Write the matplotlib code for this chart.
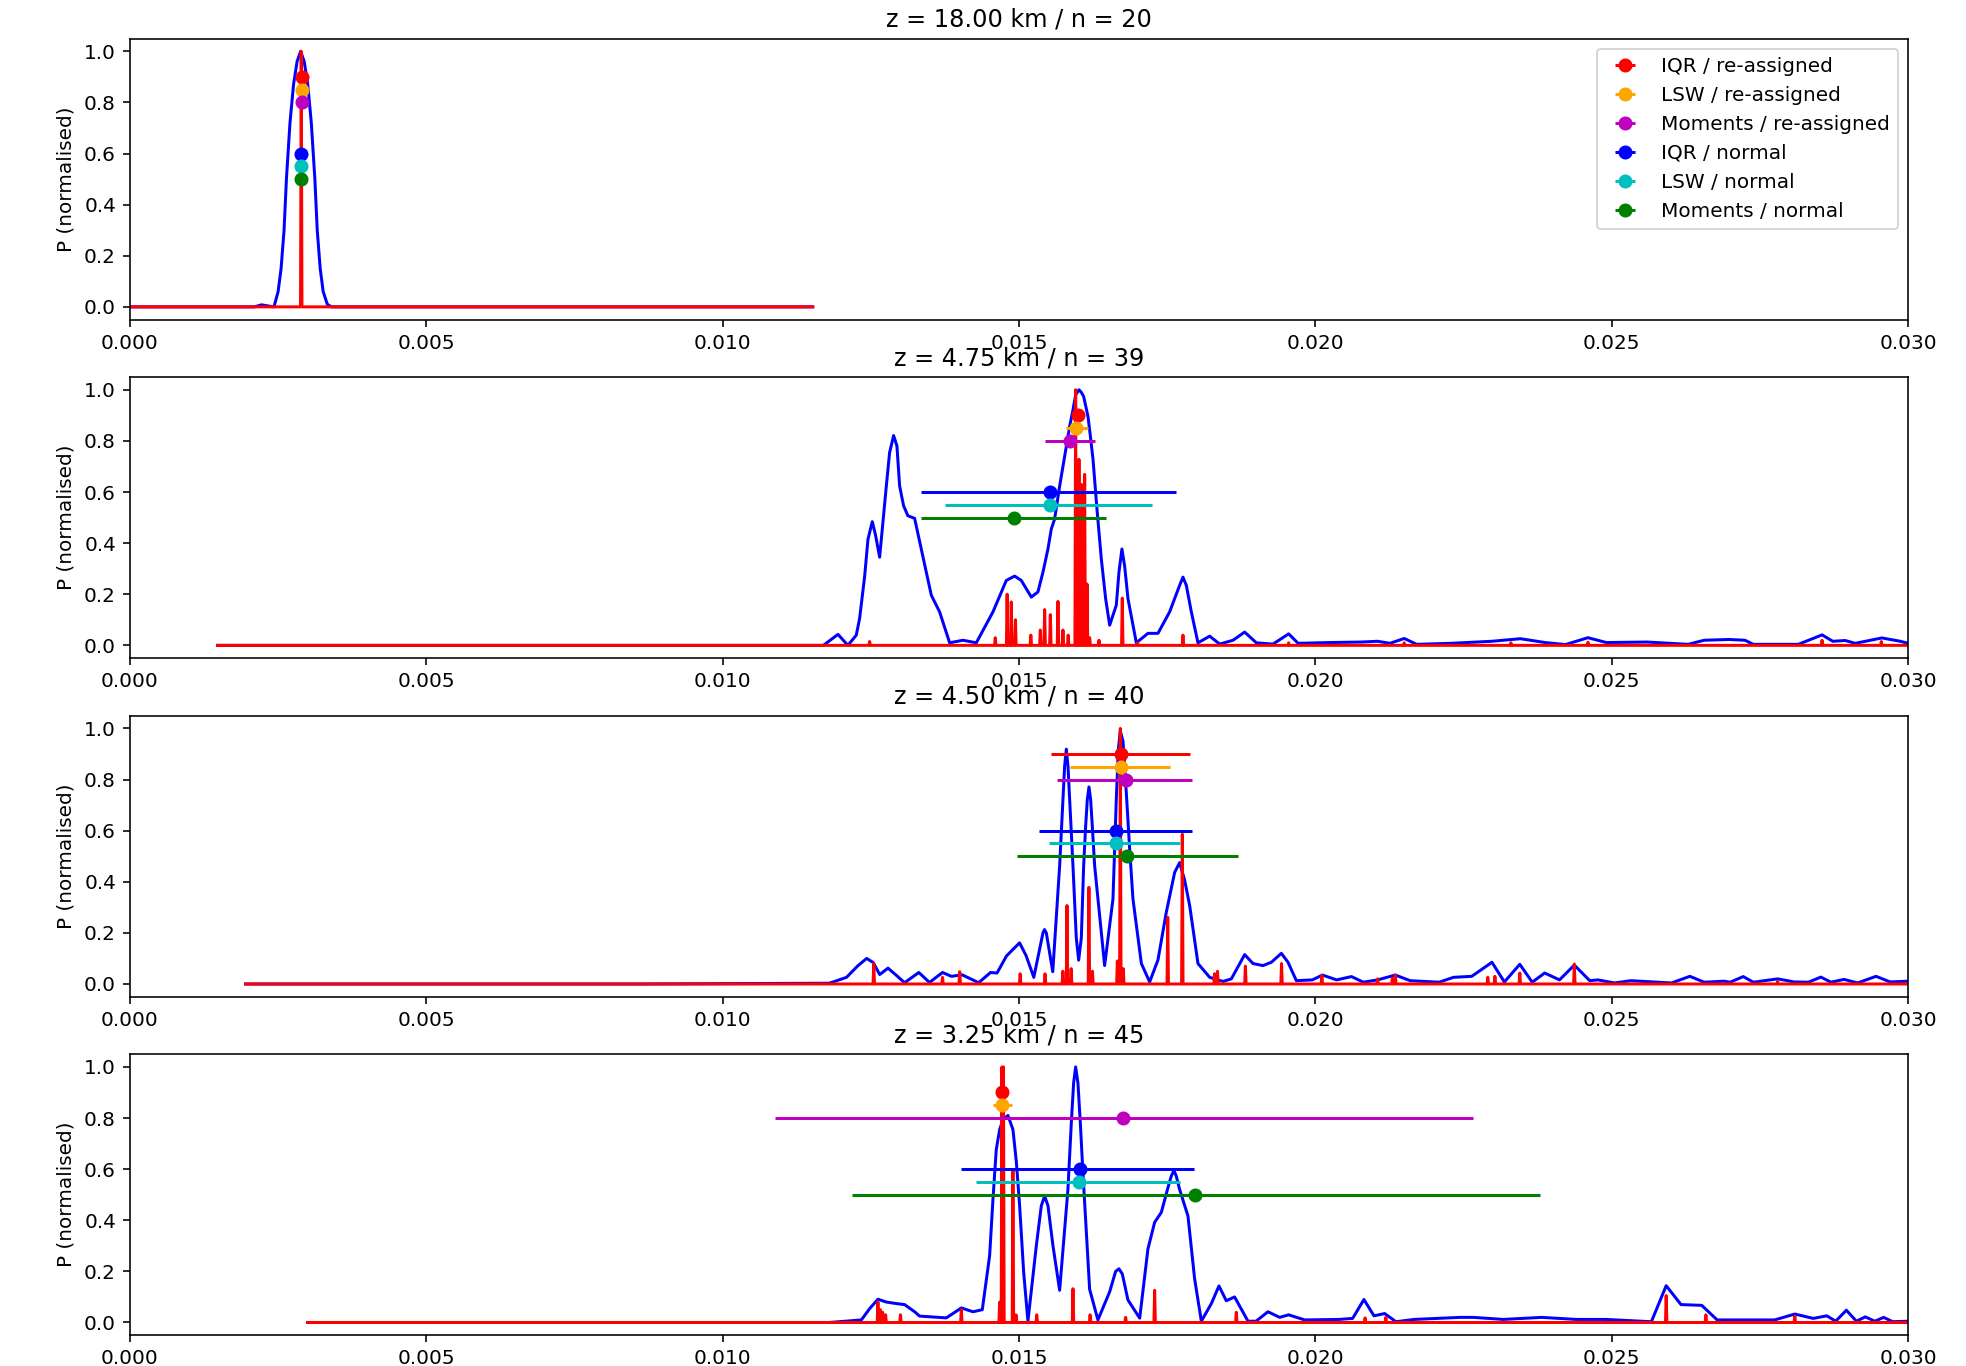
import matplotlib
matplotlib.use("Agg")
import matplotlib.pyplot as plt

# ---------------- labels / styles ----------------
titles = ["z = 18.00 km / n = 20", "z = 4.75 km / n = 39",
          "z = 4.50 km / n = 40", "z = 3.25 km / n = 45"]
method_labels = ["IQR / re-assigned", "LSW / re-assigned", "Moments / re-assigned",
                 "IQR / normal", "LSW / normal", "Moments / normal"]
method_colors = ["r", "orange", "m", "b", "c", "g"]
method_levels = [0.9, 0.85, 0.8, 0.6, 0.55, 0.5]
x_ticks = [0.000, 0.005, 0.010, 0.015, 0.020, 0.025, 0.030]

# ---------------- panel 1 : z = 18.00 km ----------------
blue1_f = [0.0, 0.0021, 0.00222, 0.00232, 0.00243, 0.0025, 0.00255, 0.0026, 0.00264,
           0.0027, 0.00276, 0.00282, 0.00288, 0.00294, 0.003, 0.00306, 0.00312,
           0.00316, 0.00321, 0.00326, 0.00333, 0.0034, 0.01152]
blue1_p = [0.0, 0.0, 0.008, 0.004, 0.0, 0.06, 0.15, 0.3, 0.5,
           0.72, 0.87, 0.96, 1.0, 0.96, 0.87, 0.72, 0.5,
           0.3, 0.15, 0.06, 0.01, 0.0, 0.0]
red1_range = [0.0, 0.01152]
red1_f = [0.00289]
red1_p = [1.0]
ctr1 = [0.0029, 0.0029, 0.0029, 0.002884, 0.002884, 0.002884]
elo1 = [0.00001, 0.00001, 0.00001, 0.00001, 0.00001, 0.00001]
ehi1 = [0.00001, 0.00001, 0.00001, 0.00001, 0.00001, 0.00001]

# ---------------- panel 2 : z = 4.75 km ----------------
blue2_f = [0.00148, 0.0117, 0.011946, 0.012114, 0.012255, 0.012311, 0.012396, 0.012452,
           0.012525, 0.012581, 0.012649, 0.012762, 0.012817, 0.012885, 0.012941, 0.012986,
           0.013053, 0.013126, 0.013239, 0.013521, 0.013661, 0.01383, 0.014055, 0.01428,
           0.014561, 0.014786, 0.014927, 0.015039, 0.015208, 0.01532, 0.015405, 0.015489,
           0.015545, 0.015601, 0.015686, 0.015799, 0.015855, 0.015911, 0.015956, 0.016012,
           0.016052, 0.016091, 0.016164, 0.016204, 0.016249, 0.016316, 0.016389, 0.016462,
           0.01653, 0.016642, 0.016687, 0.016737, 0.016783, 0.016839, 0.01698, 0.017176,
           0.017345, 0.017542, 0.017711, 0.017767, 0.017823, 0.017908, 0.01802, 0.018218,
           0.018386, 0.018611, 0.018808, 0.019005, 0.019286, 0.01955, 0.01971, 0.02023,
           0.02078, 0.02105, 0.02126, 0.0215, 0.02171, 0.02229, 0.02298, 0.02346,
           0.02388, 0.02422, 0.0246, 0.02491, 0.0256, 0.02629, 0.02656, 0.02698,
           0.02725, 0.02739, 0.02815, 0.02855, 0.02873, 0.02894, 0.02911, 0.02956,
           0.02987, 0.030]
blue2_p = [0.0, 0.0, 0.043, 0.0, 0.04, 0.105, 0.27, 0.415,
           0.484, 0.43, 0.345, 0.624, 0.754, 0.821, 0.78, 0.624,
           0.546, 0.507, 0.497, 0.196, 0.131, 0.01, 0.02, 0.01,
           0.131, 0.254, 0.271, 0.254, 0.189, 0.209, 0.287, 0.377,
           0.455, 0.494, 0.623, 0.779, 0.857, 0.921, 0.98, 1.0,
           0.99, 0.974, 0.896, 0.82, 0.728, 0.533, 0.339, 0.183,
           0.079, 0.157, 0.287, 0.377, 0.31, 0.183, 0.01, 0.047,
           0.047, 0.131, 0.235, 0.267, 0.235, 0.131, 0.01, 0.036,
           0.005, 0.02, 0.052, 0.01, 0.005, 0.045, 0.008, 0.011,
           0.013, 0.016, 0.008, 0.027, 0.004, 0.008, 0.016, 0.026,
           0.011, 0.003, 0.03, 0.011, 0.013, 0.004, 0.02, 0.023,
           0.02, 0.004, 0.004, 0.041, 0.016, 0.019, 0.008, 0.029,
           0.016, 0.008]
red2_range = [0.00148, 0.030]
red2_f = [0.01248, 0.0146, 0.0148, 0.01487, 0.01494, 0.0152, 0.01536, 0.015433,
          0.015529, 0.015658, 0.015742, 0.01583, 0.015956, 0.016012, 0.016052, 0.016108,
          0.016148, 0.016193, 0.01635, 0.016743, 0.0170, 0.017767, 0.01955, 0.0215,
          0.0233, 0.0246, 0.02855, 0.02955]
red2_p = [0.015, 0.03, 0.2, 0.17, 0.1, 0.04, 0.06, 0.14,
          0.12, 0.172, 0.06, 0.04, 1.0, 0.728, 0.63, 0.669,
          0.24, 0.03, 0.02, 0.185, 0.01, 0.04, 0.01, 0.01,
          0.01, 0.012, 0.02, 0.015]
ctr2 = [0.01599, 0.015967, 0.015855, 0.015529, 0.015517, 0.014916]
elo2 = [0.00002, 0.000168, 0.000411, 0.002177, 0.00176, 0.001564]
ehi2 = [0.00002, 0.000197, 0.000422, 0.002126, 0.001733, 0.001558]

# ---------------- panel 3 : z = 4.50 km ----------------
blue3_f = [0.00195, 0.0086, 0.0118, 0.01209, 0.01228, 0.01243, 0.01254, 0.01265,
           0.01279, 0.01294, 0.01307, 0.01331, 0.01349, 0.01371, 0.01386, 0.01404,
           0.01432, 0.01452, 0.01463, 0.01479, 0.01501, 0.01512, 0.01525, 0.015405,
           0.01543, 0.015461, 0.01557, 0.015686, 0.015742, 0.01577, 0.015799, 0.015827,
           0.015855, 0.015911, 0.015967, 0.016007, 0.016052, 0.016091, 0.016125, 0.016153,
           0.016181, 0.016209, 0.016237, 0.016277, 0.016445, 0.016586, 0.016642, 0.016676,
           0.01671, 0.016755, 0.016811, 0.016867, 0.016923, 0.017065, 0.017205, 0.017345,
           0.017486, 0.017627, 0.017711, 0.017796, 0.01788, 0.01802, 0.018218, 0.018443,
           0.018583, 0.018808, 0.018948, 0.019117, 0.019258, 0.019427, 0.01954, 0.01968,
           0.01995, 0.02012, 0.02036, 0.02061, 0.02081, 0.02105, 0.02135, 0.0216,
           0.02209, 0.02233, 0.02264, 0.02298, 0.02319, 0.02345, 0.02366, 0.02387,
           0.02412, 0.02437, 0.02463, 0.02477, 0.02505, 0.02532, 0.02601, 0.02632,
           0.02656, 0.0269, 0.027, 0.02722, 0.02739, 0.0278, 0.02808, 0.02832,
           0.02853, 0.0287, 0.02892, 0.02915, 0.02946, 0.0297, 0.030]
blue3_p = [0.0, 0.0, 0.003, 0.026, 0.071, 0.1, 0.084, 0.037,
           0.062, 0.032, 0.005, 0.045, 0.006, 0.045, 0.03, 0.036,
           0.005, 0.045, 0.043, 0.11, 0.161, 0.111, 0.026, 0.2,
           0.213, 0.2, 0.048, 0.462, 0.722, 0.852, 0.919, 0.852,
           0.722, 0.462, 0.18, 0.093, 0.18, 0.462, 0.618, 0.722,
           0.771, 0.722, 0.618, 0.462, 0.072, 0.333, 0.722, 0.917,
           0.99, 0.95, 0.748, 0.53, 0.333, 0.08, 0.008, 0.094,
           0.281, 0.437, 0.475, 0.405, 0.307, 0.08, 0.026, 0.01,
           0.02, 0.115, 0.08, 0.072, 0.085, 0.12, 0.085, 0.013,
           0.016, 0.035, 0.016, 0.029, 0.007, 0.016, 0.035, 0.013,
           0.007, 0.026, 0.03, 0.085, 0.008, 0.077, 0.007, 0.043,
           0.016, 0.074, 0.013, 0.016, 0.004, 0.013, 0.004, 0.03,
           0.007, 0.011, 0.007, 0.029, 0.007, 0.02, 0.008, 0.007,
           0.027, 0.007, 0.018, 0.004, 0.03, 0.008, 0.011]
red3_range = [0.00195, 0.030]
red3_f = [0.01255, 0.01371, 0.0140, 0.01502, 0.01544, 0.01574, 0.01581, 0.01588,
          0.01618, 0.01624, 0.01666, 0.01671, 0.01676, 0.01751, 0.017756, 0.0183,
          0.01835, 0.01882, 0.01943, 0.02011, 0.02105, 0.0213, 0.02135, 0.02291,
          0.02303, 0.02345, 0.02437, 0.0278]
red3_p = [0.08, 0.026, 0.048, 0.04, 0.04, 0.05, 0.307, 0.06,
          0.378, 0.05, 0.09, 1.0, 0.06, 0.261, 0.586, 0.04,
          0.05, 0.07, 0.08, 0.033, 0.02, 0.022, 0.035, 0.026,
          0.03, 0.043, 0.078, 0.01]
ctr3 = [0.016727, 0.016727, 0.0168, 0.016631, 0.016631, 0.016828]
elo3 = [0.001181, 0.000861, 0.001159, 0.001294, 0.001125, 0.001862]
ehi3 = [0.001153, 0.000815, 0.001125, 0.001294, 0.00108, 0.001867]

# ---------------- panel 4 : z = 3.25 km ----------------
blue4_f = [0.0030, 0.0118, 0.01234, 0.01248, 0.01262, 0.012762, 0.01293, 0.013071,
           0.013239, 0.013323, 0.013773, 0.013886, 0.014027, 0.014223, 0.014381, 0.014505,
           0.014561, 0.014617, 0.014674, 0.01473, 0.014814, 0.014898, 0.014955, 0.015011,
           0.015079, 0.015151, 0.015293, 0.015377, 0.015433, 0.015489, 0.015573, 0.015686,
           0.015826, 0.015883, 0.015922, 0.015956, 0.015995, 0.016035, 0.016079, 0.016192,
           0.016332, 0.01653, 0.016631, 0.016687, 0.016743, 0.016839, 0.017037, 0.017176,
           0.017289, 0.017402, 0.017514, 0.01757, 0.017615, 0.017654, 0.017711, 0.017851,
           0.017964, 0.018077, 0.018246, 0.018374, 0.018498, 0.018638, 0.018864, 0.01900,
           0.019201, 0.019398, 0.01955, 0.01982, 0.0204, 0.02063, 0.02082, 0.02099,
           0.02117, 0.02136, 0.02167, 0.02244, 0.02267, 0.02317, 0.02382, 0.0244,
           0.0249, 0.02567, 0.02592, 0.02617, 0.02652, 0.02678, 0.02775, 0.02809,
           0.0284, 0.02863, 0.02878, 0.02896, 0.02913, 0.02928, 0.02944, 0.02959,
           0.02974, 0.030]
blue4_p = [0.0, 0.0, 0.01, 0.054, 0.091, 0.08, 0.074, 0.07,
           0.042, 0.025, 0.018, 0.035, 0.057, 0.042, 0.05, 0.262,
           0.482, 0.677, 0.755, 0.794, 0.81, 0.755, 0.63, 0.457,
           0.197, 0.005, 0.301, 0.457, 0.495, 0.457, 0.301, 0.126,
           0.521, 0.781, 0.937, 1.0, 0.937, 0.781, 0.586, 0.13,
           0.01, 0.12, 0.2, 0.21, 0.19, 0.088, 0.017, 0.288,
           0.392, 0.431, 0.528, 0.573, 0.595, 0.573, 0.52, 0.417,
           0.17, 0.005, 0.074, 0.143, 0.085, 0.1, 0.005, 0.005,
           0.042, 0.02, 0.03, 0.01, 0.012, 0.016, 0.09, 0.026,
           0.035, 0.003, 0.012, 0.02, 0.02, 0.012, 0.02, 0.012,
           0.012, 0.003, 0.144, 0.07, 0.067, 0.01, 0.01, 0.033,
           0.016, 0.026, 0.005, 0.048, 0.005, 0.022, 0.005, 0.02,
           0.003, 0.005]
red4_range = [0.0030, 0.030]
red4_f = [0.01262, 0.01266, 0.0127, 0.01275, 0.0130, 0.014027, 0.014674, 0.014712,
          0.014738, 0.014898, 0.01495, 0.0153, 0.015911, 0.0162, 0.0168, 0.017289,
          0.018667, 0.02084, 0.02119, 0.02592, 0.02659, 0.02809]
red4_p = [0.08, 0.05, 0.04, 0.03, 0.03, 0.05, 0.08, 1.0,
          1.0, 0.593, 0.03, 0.03, 0.132, 0.03, 0.02, 0.126,
          0.04, 0.018, 0.02, 0.105, 0.03, 0.025]
ctr4 = [0.014719, 0.014719, 0.016754, 0.016024, 0.016012, 0.017976]
elo4 = [0.00005, 0.000152, 0.005878, 0.001997, 0.001743, 0.005794]
ehi4 = [0.00005, 0.000169, 0.005907, 0.001924, 0.001699, 0.00581]

panels = [
    (blue1_f, blue1_p, red1_range, red1_f, red1_p, ctr1, elo1, ehi1),
    (blue2_f, blue2_p, red2_range, red2_f, red2_p, ctr2, elo2, ehi2),
    (blue3_f, blue3_p, red3_range, red3_f, red3_p, ctr3, elo3, ehi3),
    (blue4_f, blue4_p, red4_range, red4_f, red4_p, ctr4, elo4, ehi4),
]

# ---------------- figure ----------------
DPI = 144
fig = plt.figure(figsize=(1966 / DPI, 1366 / DPI), dpi=DPI)
left, width, height = 0.0661, 0.9044, 0.2058
bottoms = [0.7660, 0.5182, 0.2703, 0.0225]
spike_hw = 0.000012

for i, (bf, bp, rr, rf, rp, ctr, elo, ehi) in enumerate(panels):
    ax = fig.add_axes([left, bottoms[i], width, height])
    ax.plot(bf, bp, color="b", lw=1.5)
    # re-assigned spectrum: spikes on a zero baseline
    rx, ry = [rr[0]], [0.0]
    for f, p in sorted(zip(rf, rp)):
        rx += [f - spike_hw, f, f + spike_hw]
        ry += [0.0, p, 0.0]
    rx.append(rr[1]); ry.append(0.0)
    ax.plot(rx, ry, color="r", lw=1.5)
    for j in range(6):
        ax.errorbar([ctr[j]], [method_levels[j]], xerr=[[elo[j]], [ehi[j]]],
                    fmt="o", color=method_colors[j], label=method_labels[j])
    ax.set_xlim(0.0, 0.030)
    ax.set_ylim(-0.05, 1.05)
    ax.set_xticks(x_ticks)
    ax.set_xticklabels([f"{t:.3f}" for t in x_ticks])
    ax.set_yticks([0.0, 0.2, 0.4, 0.6, 0.8, 1.0])
    ax.set_ylabel("P (normalised)")
    ax.set_title(titles[i])
    if i == 0:
        ax.legend(loc="upper right")

fig.savefig("out.png", dpi=DPI)
